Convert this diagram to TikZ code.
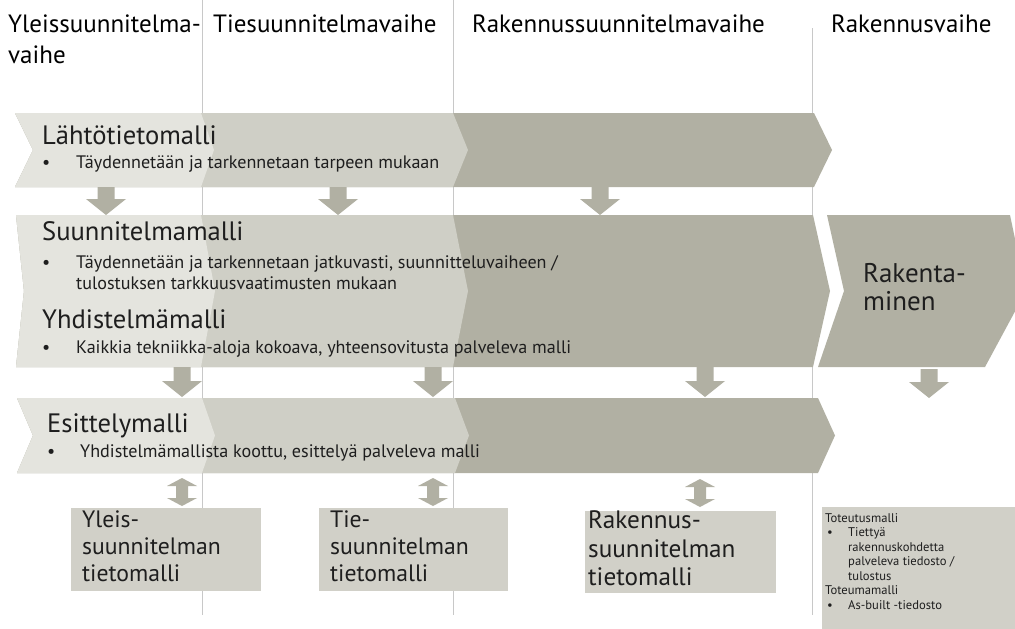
\documentclass[tikz,border=0pt]{standalone}
\usepackage{fontspec}
\setmainfont{PT Sans}
\definecolor{lightc}{HTML}{E4E4DE}
\definecolor{medc}{HTML}{CFCFC6}
\definecolor{darkc}{HTML}{B1B0A3}
\definecolor{boxc}{HTML}{D1D0C8}
\definecolor{linec}{HTML}{C8C8C8}
\definecolor{txt}{HTML}{1E1E1E}
% band: #1 top, #2 bottom, #3 left, #4 notch, #5 right, #6 tip, #7 colour
\newcommand{\bandpoly}[7]{%
  \fill[#7] (#3,#1) -- (#5,#1) -- (#6,{(#1+#2)/2}) -- (#5,#2) -- (#3,#2) -- (#4,{(#1+#2)/2}) -- cycle;}
% down block arrow: #1 x centre, #2 top, #3 shaft height, #4 head height
\newcommand{\downblock}[4]{%
  \fill[darkc] (#1-8.5,#2) -- (#1+8.5,#2) -- (#1+8.5,#2+#3) -- (#1+20,#2+#3) -- (#1,#2+#3+#4)
     -- (#1-20,#2+#3) -- (#1-8.5,#2+#3) -- cycle;}
% double block arrow: #1 x centre, #2 top
\newcommand{\twinblock}[2]{%
  \fill[darkc] (#1,#2) -- (#1+15,#2+8) -- (#1+6,#2+8) -- (#1+6,#2+20) -- (#1+15,#2+20) -- (#1,#2+28)
     -- (#1-15,#2+20) -- (#1-6,#2+20) -- (#1-6,#2+8) -- (#1-15,#2+8) -- cycle;}
\begin{document}
\begin{tikzpicture}[x=1pt,y=-1pt,
  hdr/.style={anchor=base west,inner sep=0,text=black,font=\fontsize{25}{30}\selectfont},
  ttl/.style={anchor=base west,inner sep=0,text=txt,font=\fontsize{26.6}{30}\selectfont},
  bul/.style={anchor=base west,inner sep=0,text=txt,font=\fontsize{18.1}{20}\selectfont},
  boxtxt/.style={anchor=base west,inner sep=0,text=txt,font=\fontsize{23.7}{28}\selectfont},
  boxtxtb/.style={anchor=base west,inner sep=0,text=txt,font=\fontsize{25.2}{28}\selectfont},
  small/.style={anchor=base west,inner sep=0,text=txt,font=\fontsize{12.6}{14}\selectfont},
  vline/.style={draw=linec,line width=1pt}]
\useasboundingbox (0,0) rectangle (1015,629);
\fill[white] (0,0) rectangle (1015,629);
% phase separators
\coordinate (s1t) at (202,0);   \coordinate (s1b) at (202,615);
\coordinate (s2t) at (453,0);   \coordinate (s2b) at (453,615);
\coordinate (s3t) at (812,28);  \coordinate (s3b) at (812,615);
\draw[vline] (s1t) -- (s1b);
\draw[vline] (s2t) -- (s2b);
\draw[vline] (s3t) -- (s3b);
% headers
\node[hdr] (h1a) at (8,32) {Yleissuunnitelma-};
\node[hdr] (h1b) at (8,63) {vaihe};
\node[hdr] (h2) at (213,32) {Tiesuunnitelmavaihe};
\node[hdr] (h3) at (472,32) {Rakennussuunnitelmavaihe};
\node[hdr] (h4) at (831,32) {Rakennusvaihe};
% band 1
\bandpoly{113}{187}{15}{33}{814}{832}{darkc}
\bandpoly{113}{187}{15}{33}{453}{468}{medc}
\bandpoly{113}{187}{15}{33}{201}{214}{lightc}
% band 2
\bandpoly{215}{367}{16}{24}{813}{830}{darkc}
\bandpoly{215}{367}{16}{24}{453}{468}{medc}
\bandpoly{215}{367}{16}{24}{201}{215}{lightc}
% band 3
\bandpoly{398}{473}{17}{33}{818}{835}{darkc}
\bandpoly{398}{473}{17}{33}{455}{469}{medc}
\bandpoly{398}{473}{17}{33}{202}{215}{lightc}
% Rakentaminen
\begin{scope}
\clip (0,0) rectangle (1015,629);
\fill[darkc] (827,215) -- (1010,215) -- (1026,291) -- (985,367) -- (818,367) -- (844,291) -- cycle;
\end{scope}
% band texts
\node[ttl] (t1) at (42,144) {Lähtötietomalli};
\node[bul] (b1d) at (42,168) {•};
\node[bul] (b1) at (76,168) {Täydennetään ja tarkennetaan tarpeen mukaan};
\node[ttl] (t2) at (42,240) {Suunnitelmamalli};
\node[bul] (b2d) at (42,268) {•};
\node[bul] (b2a) at (76,268) {Täydennetään ja tarkennetaan jatkuvasti, suunnitteluvaiheen /};
\node[bul] (b2b) at (76,289) {tulostuksen tarkkuusvaatimusten mukaan};
\node[ttl] (t3) at (42,328) {Yhdistelmämalli};
\node[bul] (b3d) at (42,353) {•};
\node[bul] (b3) at (76,353) {Kaikkia tekniikka-aloja kokoava, yhteensovitusta palveleva malli};
\node[ttl] (t4) at (47,432) {Esittelymalli};
\node[bul] (b4d) at (47,457) {•};
\node[bul] (b4) at (80,457) {Yhdistelmämallista koottu, esittelyä palveleva malli};
\node[ttl,font=\fontsize{27}{32}\selectfont] (r1) at (863,282) {Rakenta-};
\node[ttl,font=\fontsize{27}{32}\selectfont] (r2) at (863,310) {minen};
% arrows
\downblock{106}{187}{12}{16}
\downblock{338}{187}{12}{16}
\downblock{600}{187}{12}{16}
\downblock{182}{367}{14}{16}
\downblock{433}{367}{14}{16}
\downblock{705}{367}{14}{16}
\downblock{929}{369}{13}{16}
\twinblock{182}{478}
\twinblock{433}{478}
\twinblock{700}{479}
% bottom boxes
\fill[boxc] (71,508) rectangle (261,591);
\fill[boxc] (319,508) rectangle (508,591);
\fill[boxc] (585,511) rectangle (776,593);
\fill[boxc] (822,507) rectangle (1015,629);
\node[boxtxt] (y1) at (82,527) {Yleis-};
\node[boxtxt] (y2) at (82,554) {suunnitelman};
\node[boxtxt] (y3) at (82,581) {tietomalli};
\node[boxtxt] (w1) at (330,527) {Tie-};
\node[boxtxt] (w2) at (330,554) {suunnitelman};
\node[boxtxt] (w3) at (330,581) {tietomalli};
\node[boxtxtb] (k1) at (588,528) {Rakennus-};
\node[boxtxtb] (k2) at (588,557) {suunnitelman};
\node[boxtxtb] (k3) at (588,585) {tietomalli};
\node[small] (z1) at (825,522) {Toteutusmalli};
\node[small] (z2d) at (827,536.5) {•};
\node[small] (z2) at (848,536.5) {Tiettyä};
\node[small] (z3) at (848,551) {rakennuskohdetta};
\node[small] (z4) at (848,565.5) {palveleva tiedosto /};
\node[small] (z5) at (848,580) {tulostus};
\node[small] (z6) at (825,594.5) {Toteumamalli};
\node[small] (z7d) at (827,609) {•};
\node[small] (z7) at (848,609) {As-built -tiedosto};
\end{tikzpicture}
\end{document}
